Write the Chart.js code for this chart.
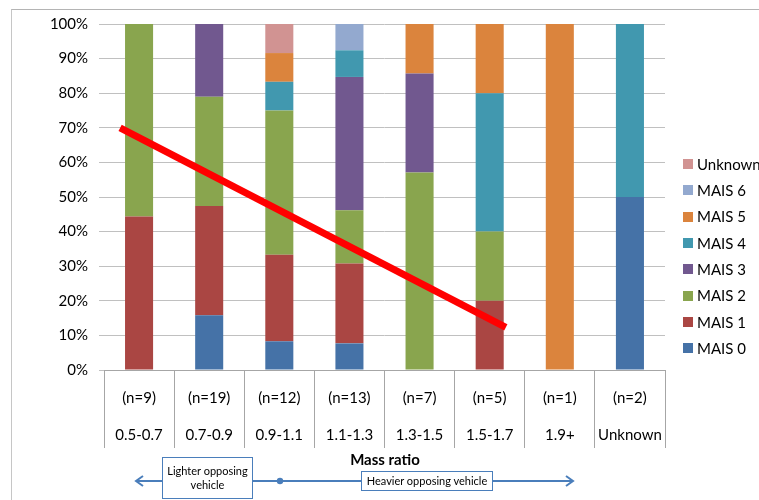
<!DOCTYPE html>
<html>
<head>
<meta charset="utf-8">
<script src="https://cdn.jsdelivr.net/npm/chart.js@4/dist/chart.umd.min.js"></script>
<style>
  html, body { margin: 0; padding: 0; background: #fff; }
  #wrap { position: relative; width: 759px; height: 500px; overflow: hidden; }
  #frame { position: absolute; left: 11px; top: 9px; width: 900px; height: 700px;
           border-left: 1px solid #c6c6c6; border-top: 1px solid #b4b4b4; }
  #c { position: absolute; left: 0; top: 0; }
  #notes { position: absolute; left: 0; top: 0; }
</style>
</head>
<body>
<div id="wrap">
  <div id="frame"></div>
  <canvas id="c" width="759" height="500"></canvas>
  <svg id="notes" width="759" height="500" xmlns="http://www.w3.org/2000/svg">
    <text x="385" y="465" text-anchor="middle" font-family="Lato" font-weight="bold" font-size="15" fill="#000">Mass ratio</text>
    <line x1="137" y1="481" x2="572" y2="481" stroke="#4a7ebb" stroke-width="2"/>
    <polyline points="143,476 136,481 143,486" fill="none" stroke="#4a7ebb" stroke-width="2"/>
    <polyline points="566,476 573,481 566,486" fill="none" stroke="#4a7ebb" stroke-width="2"/>
    <circle cx="280" cy="481" r="3.2" fill="#4a7ebb"/>
    <rect x="162.5" y="457.5" width="90" height="41" fill="#fff" stroke="#4a7ebb" stroke-width="1"/>
    <text x="207.5" y="475" text-anchor="middle" font-family="Lato" font-size="11" fill="#000">Lighter opposing</text>
    <text x="207.5" y="489" text-anchor="middle" font-family="Lato" font-size="11" fill="#000">vehicle</text>
    <rect x="361.5" y="471.5" width="131" height="19" fill="#fff" stroke="#4a7ebb" stroke-width="1"/>
    <text x="427" y="485" text-anchor="middle" font-family="Lato" font-size="11" fill="#000">Heavier opposing vehicle</text>
  </svg>
</div>
<script>
// Injury severity (MAIS) share per mass-ratio group, in percent of cases
const massRatio  = ['0.5-0.7', '0.7-0.9', '0.9-1.1', '1.1-1.3', '1.3-1.5', '1.5-1.7', '1.9+', 'Unknown'];
const caseCounts = [9, 19, 12, 13, 7, 5, 1, 2];

const mais0   = [0,    15.8, 8.3,  7.7,  0,    0,  0,   50];
const mais1   = [44.4, 31.6, 25.0, 23.1, 0,    20, 0,   0];
const mais2   = [55.6, 31.6, 41.7, 15.4, 57.1, 20, 0,   0];
const mais3   = [0,    21.0, 0,    38.5, 28.6, 0,  0,   0];
const mais4   = [0,    0,    8.3,  7.7,  0,    40, 0,   50];
const mais5   = [0,    0,    8.3,  0,    14.3, 20, 100, 0];
const mais6   = [0,    0,    0,    7.6,  0,    0,  0,   0];
const unknown = [0,    0,    8.4,  0,    0,    0,  0,   0];

const seriesNames  = ['MAIS 0', 'MAIS 1', 'MAIS 2', 'MAIS 3', 'MAIS 4', 'MAIS 5', 'MAIS 6', 'Unknown'];
const seriesValues = [mais0, mais1, mais2, mais3, mais4, mais5, mais6, unknown];
const seriesColors = ['#4572A7', '#AA4643', '#89A54E', '#71588F', '#4198AF', '#DB843D', '#93A9CF', '#D19392'];

// Trend line ends: position along the category axis (index units) and percent
const trendX = [-0.27, 5.23];
const trendY = [70, 12.3];

const FONT = 'Lato';

const labels = massRatio.map((m, i) => ['(n=' + caseCounts[i] + ')', m]);

const barSets = seriesNames.map((name, i) => ({
  label: name,
  data: seriesValues[i],
  backgroundColor: seriesColors[i],
  borderWidth: 0,
  barPercentage: 0.4,
  categoryPercentage: 1.0
}));

// Thick red trend line drawn over the bars, placed with the chart's own scales
const trendLine = {
  id: 'trendLine',
  afterDatasetsDraw(chart) {
    const xs = chart.scales.x, ys = chart.scales.y, ctx = chart.ctx;
    ctx.save();
    ctx.strokeStyle = '#ff0000';
    ctx.lineWidth = 7;
    ctx.lineCap = 'butt';
    ctx.beginPath();
    trendX.forEach((v, i) => {
      const px = xs.getPixelForValue(v), py = ys.getPixelForValue(trendY[i]);
      if (i === 0) ctx.moveTo(px, py); else ctx.lineTo(px, py);
    });
    ctx.stroke();
    ctx.restore();
  }
};

// Legend on the right, top entry = last series
const sideLegend = {
  id: 'sideLegend',
  afterDraw(chart) {
    const ctx = chart.ctx;
    const sets = chart.data.datasets;
    const x0 = chart.chartArea.right + 18;
    ctx.save();
    ctx.font = '15px ' + FONT;
    ctx.textBaseline = 'middle';
    ctx.textAlign = 'left';
    for (let k = 0; k < sets.length; k++) {
      const ds = sets[sets.length - 1 - k];
      const y = 164 + k * 26.3;
      ctx.fillStyle = ds.backgroundColor;
      ctx.fillRect(x0, Math.round(y - 5), 10, 10);
      ctx.fillStyle = '#000';
      ctx.fillText(ds.label, x0 + 14, y + 1);
    }
    ctx.restore();
  }
};

new Chart(document.getElementById('c'), {
  type: 'bar',
  data: { labels: labels, datasets: barSets },
  options: {
    responsive: false,
    animation: false,
    devicePixelRatio: 1,
    layout: { padding: { left: 0, right: 94, top: 24, bottom: 0 } },
    plugins: { legend: { display: false }, tooltip: { enabled: false } },
    scales: {
      x: {
        stacked: true,
        offset: true,
        grid: { offset: true, drawOnChartArea: false, drawTicks: true, tickLength: 78, color: '#a6a6a6' },
        border: { display: true, color: '#a6a6a6' },
        ticks: {
          padding: -68.5,
          color: '#000',
          maxRotation: 0,
          autoSkip: false,
          font: { family: FONT, size: 15, lineHeight: '37px' }
        },
        afterFit(s) { s.height = 130; }
      },
      y: {
        stacked: true,
        min: 0,
        max: 100,
        ticks: {
          stepSize: 10,
          padding: 11,
          color: '#000',
          font: { family: FONT, size: 15 },
          callback: v => v + '%'
        },
        grid: { color: '#c0c0c0', tickLength: 5 },
        border: { display: false },
        afterFit(s) { s.width = 104; }
      }
    }
  },
  plugins: [trendLine, sideLegend]
});
</script>
</body>
</html>
